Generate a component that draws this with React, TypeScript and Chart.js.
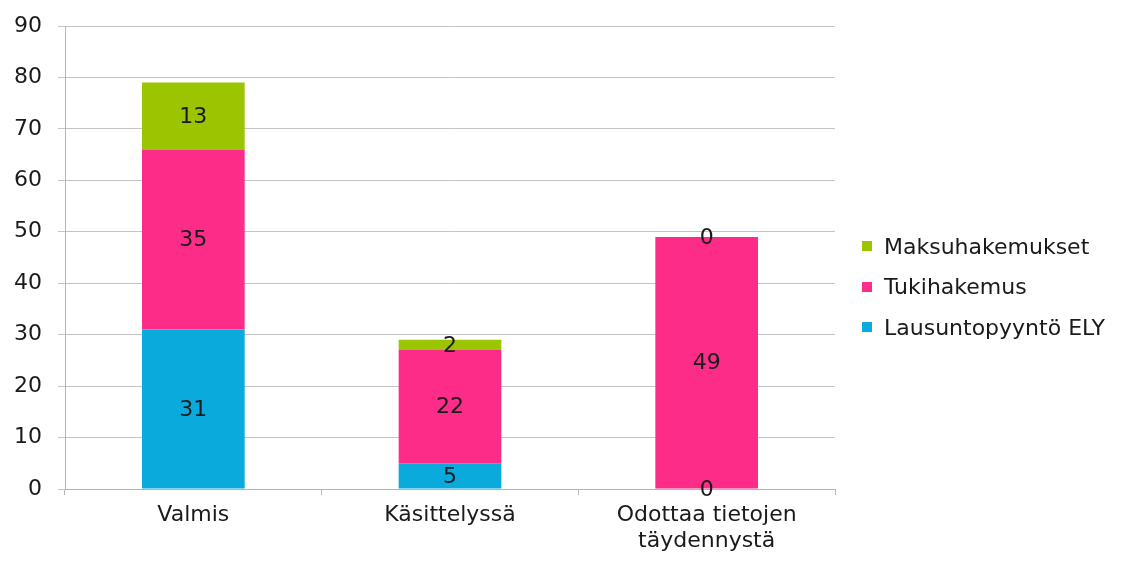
import React, { useEffect, useRef } from "react";
import { Chart, registerables } from "chart.js";

Chart.register(...registerables);

const categories: (string | string[])[] = ["Valmis", "Käsittelyssä", ["Odottaa tietojen", "täydennystä"]];
const lausuntoValues = [31, 5, 0];
const tukiValues = [35, 22, 49];
const maksuValues = [13, 2, 0];
const seriesNames = ["Lausuntopyyntö ELY", "Tukihakemus", "Maksuhakemukset"];
const seriesColors = ["#0aaadc", "#fd2c89", "#9ac500"];
const yTicks = [0, 10, 20, 30, 40, 50, 60, 70, 80, 90];

const FONT = "'DejaVu Sans', Verdana, sans-serif";
const FS = 22;

const labelPlugin = {
  id: "segLabels",
  afterDatasetsDraw(chart: any) {
    const ctx = chart.ctx;
    ctx.save();
    ctx.font = `${FS}px ${FONT}`;
    ctx.fillStyle = "#1a1a1a";
    ctx.textAlign = "center";
    ctx.textBaseline = "middle";
    chart.data.datasets.forEach((ds: any, di: number) => {
      const meta = chart.getDatasetMeta(di);
      meta.data.forEach((el: any, i: number) => {
        const p = el.getProps(["x", "y", "base"], true);
        const v = ds.data[i];
        ctx.fillText(String(v), p.x, (p.y + p.base) / 2 + 1);
      });
    });
    ctx.restore();
  },
};

export default function App() {
  const ref = useRef<HTMLCanvasElement | null>(null);
  useEffect(() => {
    if (!ref.current) return;
    const values = [lausuntoValues, tukiValues, maksuValues];
    const chart = new Chart(ref.current, {
      type: "bar",
      data: {
        labels: categories,
        datasets: values.map((d, i) => ({
          label: seriesNames[i],
          data: d,
          backgroundColor: seriesColors[i],
          borderWidth: 0,
          categoryPercentage: 1,
          barPercentage: 0.4,
        })),
      },
      options: {
        animation: false,
        responsive: false,
        maintainAspectRatio: false,
        layout: { padding: { top: 0, right: 284, bottom: 0, left: 0 } },
        plugins: {
          legend: { display: false },
          tooltip: { enabled: false },
        },
        scales: {
          x: {
            stacked: true,
            afterFit: (s: any) => {
              s.height = 65;
            },
            grid: {
              offset: true,
              drawOnChartArea: false,
              drawTicks: true,
              tickLength: 6,
              color: "#b4b4b4",
            },
            border: { color: "#b4b4b4", width: 1 },
            ticks: {
              font: { family: FONT, size: FS, lineHeight: 1.2 },
              color: "#1a1a1a",
              padding: 7,
              maxRotation: 0,
              autoSkip: false,
            },
          },
          y: {
            stacked: true,
            min: 0,
            max: 90,
            afterBuildTicks: (s: any) => {
              s.ticks = yTicks.map((v) => ({ value: v }));
            },
            afterFit: (s: any) => {
              s.width = 57;
              s.paddingTop = 18;
              s.paddingBottom = 0;
            },
            grid: {
              color: "#c4c4c4",
              tickLength: 7,
            },
            border: { color: "#b4b4b4", width: 1 },
            ticks: {
              font: { family: FONT, size: FS },
              color: "#1a1a1a",
              padding: 16,
            },
          },
        },
      },
      plugins: [labelPlugin],
    });
    return () => chart.destroy();
  }, []);

  const legendOrder = [2, 1, 0];
  return (
    <div style={{ position: "relative", width: 1111, height: 546 }}>
      <canvas ref={ref} width={1111} height={546} style={{ display: "block" }} />
      <div style={{ position: "absolute", left: 854, top: 218, fontFamily: FONT, fontSize: FS, color: "#1a1a1a" }}>
        {legendOrder.map((i) => (
          <div key={i} style={{ display: "flex", alignItems: "center", height: 40.5, whiteSpace: "nowrap" }}>
            <span style={{ display: "inline-block", width: 10, height: 10, background: seriesColors[i], marginRight: 12 }} />
            <span>{seriesNames[i]}</span>
          </div>
        ))}
      </div>
    </div>
  );
}
